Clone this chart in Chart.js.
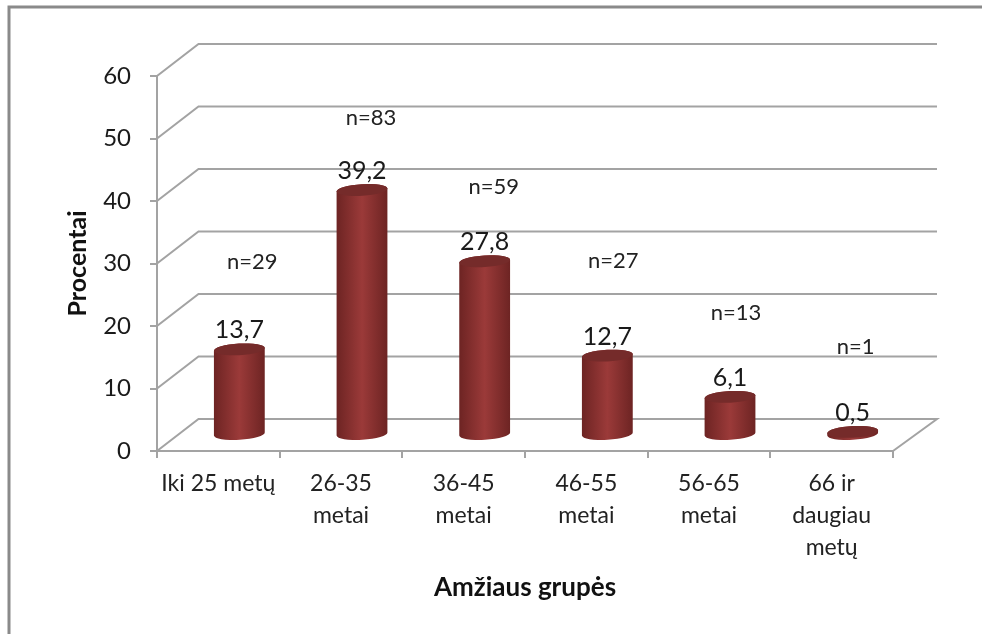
<!DOCTYPE html>
<html>
<head>
<meta charset="utf-8">
<script src="https://cdn.jsdelivr.net/npm/chart.js@4"></script>
<style>
    body { margin: 0; background: #fff; }
    canvas { display: block; }
</style>
</head>
<body>
<canvas id="chartCanvas" width="982" height="634"></canvas>
<script>
const categories = ["Iki 25 metų", ["26-35", "metai"], ["36-45", "metai"], ["46-55", "metai"], ["56-65", "metai"], ["66 ir", "daugiau", "metų"]];
const percents = [13.7, 39.2, 27.8, 12.7, 6.1, 0.5];
const nLabels = ["n=29", "n=83", "n=59", "n=27", "n=13", "n=1"];
// how far above the bar the n= text was put, in percent units
const nLabelGaps = [13.98, 11.52, 11.88, 15.14, 13.42, 13.58];
const nLabelShifts = [13, 9, 9, 6, 6, 3];
const yTicks = [0, 10, 20, 30, 40, 50, 60];

const fontName = "Lato, 'Open Sans', sans-serif";
const gridColor = "#a3a3a3";
const depthX = 41.5;
const depthY = 32;

const wallPlugin = {
    id: "wall",
    beforeDatasetsDraw(chart) {
        let ctx = chart.ctx;
        let yScale = chart.scales.y;
        let left = chart.scales.x.left;
        let right = chart.scales.x.right;
        ctx.save();
        ctx.strokeStyle = gridColor;
        ctx.lineWidth = 2;
        for (const tick of yTicks) {
            let y = yScale.getPixelForValue(tick);
            ctx.beginPath();
            ctx.moveTo(left, y);
            ctx.lineTo(left + depthX, y - depthY);
            ctx.lineTo(right + 44, y - depthY);
            if (tick == 0) {
                ctx.lineTo(right, y);
            }
            ctx.stroke();
        }
        ctx.restore();
    }
};

const cylinderPlugin = {
    id: "cylinders",
    afterDatasetsDraw(chart) {
        let ctx = chart.ctx;
        let yScale = chart.scales.y;
        let bars = chart.getDatasetMeta(0).data;
        ctx.save();
        bars.forEach((bar, i) => {
            let cx = bar.x + 21;
            let rx = bar.width / 2;
            let ry = 5.8;
            let tilt = -0.06;
            let top = bar.y - depthY / 2;
            let base = bar.base - depthY / 2;

            let grad = ctx.createLinearGradient(cx - rx, 0, cx + rx, 0);
            grad.addColorStop(0, "#6d2423");
            grad.addColorStop(0.5, "#9b3a39");
            grad.addColorStop(1, "#6d2423");
            ctx.fillStyle = grad;
            ctx.beginPath();
            ctx.ellipse(cx, base, rx, ry, tilt, 0, Math.PI);
            ctx.ellipse(cx, top, rx, ry, tilt, Math.PI, Math.PI * 2);
            ctx.closePath();
            ctx.fill();

            ctx.fillStyle = "#752b2a";
            ctx.beginPath();
            ctx.ellipse(cx, top, rx, ry, tilt, 0, Math.PI * 2);
            ctx.fill();

            // value and n= texts
            ctx.fillStyle = "#1a1a1a";
            ctx.textAlign = "center";
            ctx.textBaseline = "middle";
            ctx.font = "25px " + fontName;
            ctx.fillText(String(percents[i]).replace(".", ","), cx, top - 19);
            ctx.font = "22px " + fontName;
            ctx.fillStyle = "#222";
            let nY = yScale.getPixelForValue(percents[i] + nLabelGaps[i]) - depthY / 2;
            ctx.fillText(nLabels[i], cx + nLabelShifts[i], nY);
        });
        ctx.restore();
    }
};

const framePlugin = {
    id: "frame",
    beforeDraw(chart) {
        let ctx = chart.ctx;
        ctx.save();
        ctx.fillStyle = "#fff";
        ctx.fillRect(0, 0, chart.width, chart.height);
        ctx.strokeStyle = "#8a8a8a";
        ctx.lineWidth = 3;
        ctx.beginPath();
        ctx.moveTo(9, 634);
        ctx.lineTo(9, 7);
        ctx.lineTo(982, 7);
        ctx.stroke();
        ctx.restore();
    }
};

new Chart(document.getElementById("chartCanvas"), {
    type: "bar",
    data: {
        labels: categories,
        datasets: [{
            label: "Procentai",
            data: percents,
            backgroundColor: "rgba(0,0,0,0)",
            barPercentage: 0.415,
            categoryPercentage: 1
        }]
    },
    options: {
        responsive: false,
        animation: false,
        layout: { padding: { left: 0, right: 89, top: 76, bottom: 0 } },
        plugins: { legend: { display: false }, tooltip: { enabled: false } },
        scales: {
            x: {
                afterFit: (scale) => { scale.height = 183; },
                grid: { drawOnChartArea: false, color: gridColor, lineWidth: 2, tickLength: 7 },
                border: { color: gridColor, width: 2 },
                ticks: { color: "#222", font: { family: fontName, size: 23, lineHeight: 1.38 }, maxRotation: 0, autoSkip: false, padding: 10 },
                title: { display: true, text: "Amžiaus grupės", color: "#111", font: { family: fontName, size: 26, weight: "bold" }, padding: { top: 0, bottom: 31 } }
            },
            y: {
                min: 0,
                max: 60,
                afterFit: (scale) => { scale.width = 157; },
                grid: { drawOnChartArea: false, color: gridColor, lineWidth: 2, tickLength: 7 },
                border: { color: gridColor, width: 2 },
                ticks: { stepSize: 10, color: "#1a1a1a", font: { family: fontName, size: 24 }, padding: 19 },
                title: { display: true, text: "Procentai", color: "#111", font: { family: fontName, size: 25, weight: "bold" }, padding: { top: 63, bottom: 0 } }
            }
        }
    },
    plugins: [framePlugin, wallPlugin, cylinderPlugin]
});
</script>
</body>
</html>
